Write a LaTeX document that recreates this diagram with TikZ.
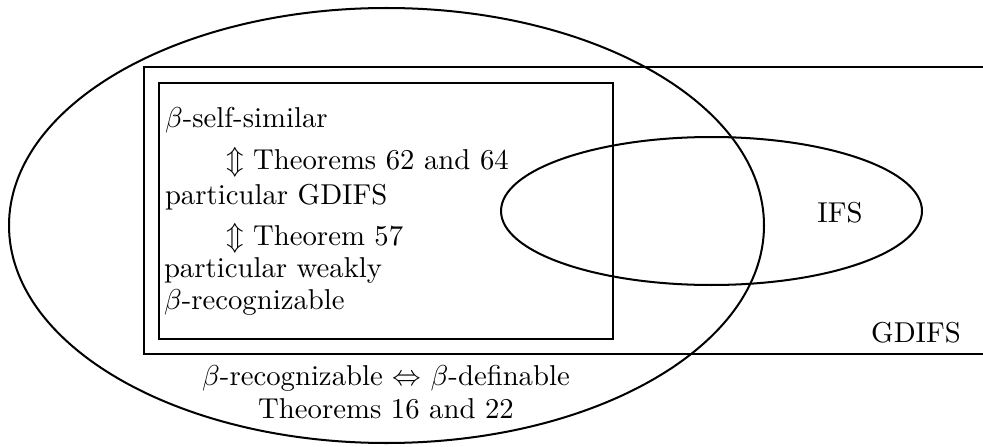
\documentclass[tikz,border=0pt]{standalone}
\usepackage{amssymb}
\begin{document}
\begin{tikzpicture}[x=0.348pt,y=-0.348pt, line width=0.7pt,
  lbl/.style={inner sep=0pt, anchor=base west},
  clbl/.style={inner sep=0pt, anchor=base}]
\clip (0,0) rectangle (983,446);
% big ellipse
\draw (386.5,225.5) ellipse [x radius=131.37pt, y radius=75.69pt];
% outer rectangle (GDIFS)
\draw (144,67) rectangle (1000,354);
% inner rectangle
\draw (159,83) rectangle (613,339);
% IFS ellipse
\draw (711.5,211) ellipse [x radius=73.25pt, y radius=25.75pt];
% texts
\node[lbl] (ss) at (164,128) {$\beta$-self-similar};
\node[lbl] (t1) at (225,169) {$\Updownarrow$ Theorems 62 and 64};
\node[lbl] (pg) at (164,204) {particular GDIFS};
\node[lbl] (t2) at (225,245) {$\Updownarrow$ Theorem 57};
\node[lbl] (pw) at (163,277) {particular weakly};
\node[lbl] (br) at (163,309) {$\beta$-recognizable};
\node[clbl] (ifs) at (840,222) {IFS};
\node[clbl] (gd) at (916,342) {GDIFS};
\node[clbl] (rd) at (386,385) {$\beta$-recognizable $\Leftrightarrow$ $\beta$-definable};
\node[clbl] (th) at (386,418) {Theorems 16 and 22};
\end{tikzpicture}
\end{document}
